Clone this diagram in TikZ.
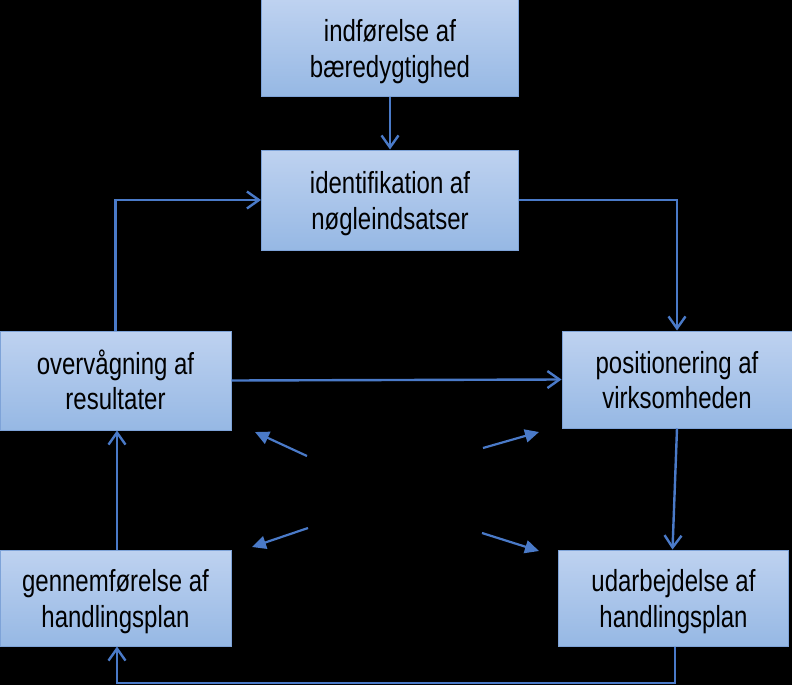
\documentclass[tikz,border=0pt]{standalone}
\usepackage{fontspec}
\usepackage{graphicx}
\setmainfont{Liberation Sans}
\usetikzlibrary{arrows.meta}
\definecolor{linecol}{RGB}{74,122,200}
\definecolor{boxtop}{RGB}{190,210,240}
\definecolor{boxbot}{RGB}{150,184,228}
\definecolor{boxdraw}{RGB}{126,163,216}
\newcommand{\twolines}[2]{\raisebox{-4.5pt}[\height][\depth]{\scalebox{1}[1.27]{\fontsize{24}{27.6}\selectfont\begin{tabular}{@{}c@{}}#1\\#2\end{tabular}}}}
\tikzset{
  boxnode/.style={draw=boxdraw, line width=1pt, top color=boxtop, bottom color=boxbot,
    align=center, inner sep=0pt, text=black},
  conn/.style={draw=linecol, line width=2.4pt, -{Straight Barb[length=12pt,width=17pt,line width=2.4pt]}},
  diag/.style={draw=linecol, line width=2.2pt, -{Triangle[length=14pt,width=13pt]}}
}
\begin{document}
\begin{tikzpicture}[x=1pt,y=-1pt]
\fill[black] (0,0) rectangle (792,685);
\useasboundingbox (0,0) rectangle (792,685);
\node[boxnode, minimum width=257pt, minimum height=96pt] (intro) at (390,48) {\twolines{indførelse af}{bæredygtighed}};
\node[boxnode, minimum width=257pt, minimum height=100pt] (ident) at (390,200) {\twolines{identifikation af}{nøgleindsatser}};
\node[boxnode, minimum width=231pt, minimum height=99pt] (overv) at (115.5,380.5) {\twolines{overvågning af}{resultater}};
\node[boxnode, minimum width=230pt, minimum height=97pt] (posit) at (677,379.5) {\twolines{positionering af}{virksomheden}};
\node[boxnode, minimum width=231pt, minimum height=96pt] (genn) at (115.5,598) {\twolines{gennemførelse af}{handlingsplan}};
\node[boxnode, minimum width=230pt, minimum height=96pt] (udarb) at (673.5,598) {\twolines{udarbejdelse af}{handlingsplan}};
% connectors
\draw[conn] (intro.south) -- (ident.north);
\draw[conn] (ident.east) -| (posit.north);
\draw[conn] (overv.north) |- (ident.west);
\draw[conn] (overv.east) -- (posit.west);
\draw[conn] (posit.south) -- ([xshift=-1pt]udarb.north);
\coordinate (bl) at (117,683);
\coordinate (br) at (675,683);
\draw[conn] ([xshift=1.5pt]udarb.south) -- (br) -- (bl) -- ([xshift=1.5pt]genn.south);
\draw[conn] ([xshift=1.5pt]genn.north) -- ([xshift=1.5pt]overv.south);
% diagonal arrows
\coordinate (d1s) at (307,456); \coordinate (d1e) at (255,432);
\coordinate (d2s) at (483,448); \coordinate (d2e) at (539,432);
\coordinate (d3s) at (308,528); \coordinate (d3e) at (252,547);
\coordinate (d4s) at (482,533); \coordinate (d4e) at (539,551);
\draw[diag] (d1s) -- (d1e);
\draw[diag] (d2s) -- (d2e);
\draw[diag] (d3s) -- (d3e);
\draw[diag] (d4s) -- (d4e);
\end{tikzpicture}
\end{document}
